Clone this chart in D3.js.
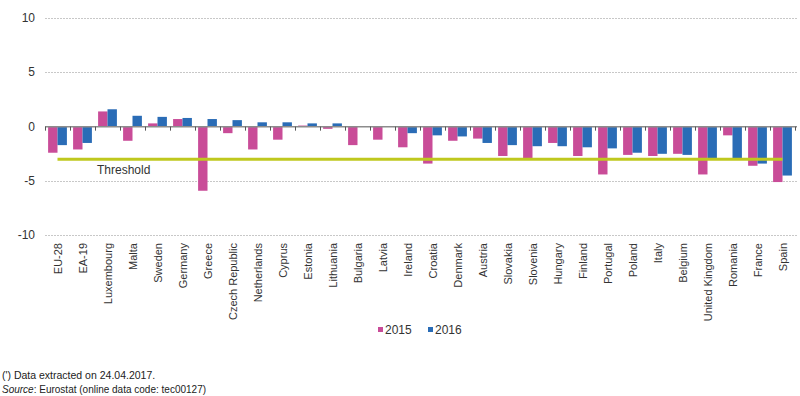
<!DOCTYPE html>
<html><head><meta charset="utf-8">
<script src="https://cdn.jsdelivr.net/npm/d3@7"></script>
<style>body{margin:0;background:#fff;}svg{display:block;font-family:"Liberation Sans",Arial,sans-serif;}</style>
</head><body>
<svg id="c" width="800" height="396"></svg>
<script>
const categories = ["EU-28","EA-19","Luxembourg","Malta","Sweden","Germany","Greece","Czech Republic","Netherlands","Cyprus","Estonia","Lithuania","Bulgaria","Latvia","Ireland","Croatia","Denmark","Austria","Slovakia","Slovenia","Hungary","Finland","Portugal","Poland","Italy","Belgium","United Kingdom","Romania","France","Spain"];
const values2015 = [-2.4,-2.1,1.4,-1.3,0.3,0.7,-5.9,-0.6,-2.1,-1.2,0.1,-0.2,-1.7,-1.2,-1.9,-3.4,-1.3,-1.1,-2.7,-2.9,-1.5,-2.7,-4.4,-2.6,-2.7,-2.5,-4.4,-0.8,-3.6,-5.1];
const values2016 = [-1.7,-1.5,1.6,1.0,0.9,0.8,0.7,0.6,0.4,0.4,0.3,0.3,0.05,0.05,-0.6,-0.8,-0.9,-1.5,-1.7,-1.8,-1.8,-1.9,-2.0,-2.4,-2.5,-2.6,-3.0,-3.0,-3.4,-4.5];
const seriesNames = ["2015","2016"];
const yTicks = [10,5,0,-5,-10];
const threshold = -3;
const thresholdLabel = "Threshold";
const colors = ["#c94c98","#2a6cb6"];

const svg = d3.select("#c");
const x = d3.scaleBand().domain(categories).range([45,795]).paddingInner(0).paddingOuter(0);
const y = d3.scaleLinear().domain([-10,10]).range([235.3,18]);
const xs = d3.scaleBand().domain(seriesNames).range([3.1, x.bandwidth()-3.1]);

// gridlines
svg.append("g").selectAll("line").data(yTicks.filter(d=>d!==0)).join("line")
  .attr("x1",45).attr("x2",797).attr("y1",d=>Math.round(y(d))+0.5).attr("y2",d=>Math.round(y(d))+0.5)
  .attr("stroke","#c8c8c8").attr("stroke-dasharray","2,1").attr("stroke-width",1);

// y labels
svg.append("g").selectAll("text").data(yTicks).join("text")
  .attr("x",35).attr("y",d=>y(d)+4).attr("text-anchor","end")
  .attr("font-size",12).attr("fill","#333").text(d=>d);

// bars
const data = categories.map((c,i)=>({c, v:[values2015[i],values2016[i]]}));
const g = svg.append("g");
data.forEach(d=>{
  d.v.forEach((v,j)=>{
    g.append("rect")
      .attr("x",x(d.c)+xs(seriesNames[j]))
      .attr("width",xs.bandwidth())
      .attr("y",Math.min(y(v),y(0)))
      .attr("height",Math.max(Math.abs(y(v)-y(0)),0.8))
      .attr("fill",colors[j]);
  });
});

// zero axis line + ticks
svg.append("line").attr("x1",45).attr("x2",797).attr("y1",y(0)).attr("y2",y(0))
  .attr("stroke","#8c8c8c").attr("stroke-width",1.5);
const tickPos = categories.map(c=>x(c)).concat([x(categories[categories.length-1])+x.bandwidth()]);
svg.append("g").selectAll("line").data(tickPos).join("line")
  .attr("x1",d=>Math.round(d)+0.5).attr("x2",d=>Math.round(d)+0.5)
  .attr("y1",y(0)).attr("y2",y(0)+4).attr("stroke","#555").attr("stroke-width",1);

// threshold
svg.append("line")
  .attr("x1",x(categories[0])+x.bandwidth()/2)
  .attr("x2",x(categories[categories.length-1])+x.bandwidth()/2)
  .attr("y1",y(threshold)).attr("y2",y(threshold))
  .attr("stroke","#bfc81e").attr("stroke-width",3);
svg.append("text").attr("x",97).attr("y",y(threshold)+15).attr("font-size",12).attr("fill","#333").text(thresholdLabel);

// x labels
svg.append("g").selectAll("text").data(categories).join("text")
  .attr("transform",d=>`translate(${x(d)+x.bandwidth()/2+4},243) rotate(-90)`)
  .attr("text-anchor","end").attr("font-size",11).attr("fill","#333").text(d=>d);

// legend
const leg = svg.append("g");
const legX = [378,428];
seriesNames.forEach((s,i)=>{
  leg.append("rect").attr("x",legX[i]).attr("y",327).attr("width",5).attr("height",5).attr("fill",colors[i]);
  leg.append("text").attr("x",legX[i]+7).attr("y",334).attr("font-size",12).attr("fill","#333").text(s);
});

// footer
svg.append("text").attr("x",2).attr("y",379).attr("font-size",10.5).attr("fill","#222").text("(') Data extracted on 24.04.2017.");
const src = svg.append("text").attr("x",2).attr("y",392.5).attr("font-size",10).attr("fill","#222");
src.append("tspan").attr("font-style","italic").text("Source");
src.append("tspan").text(": Eurostat (online data code: tec00127)");
</script>
</body></html>
